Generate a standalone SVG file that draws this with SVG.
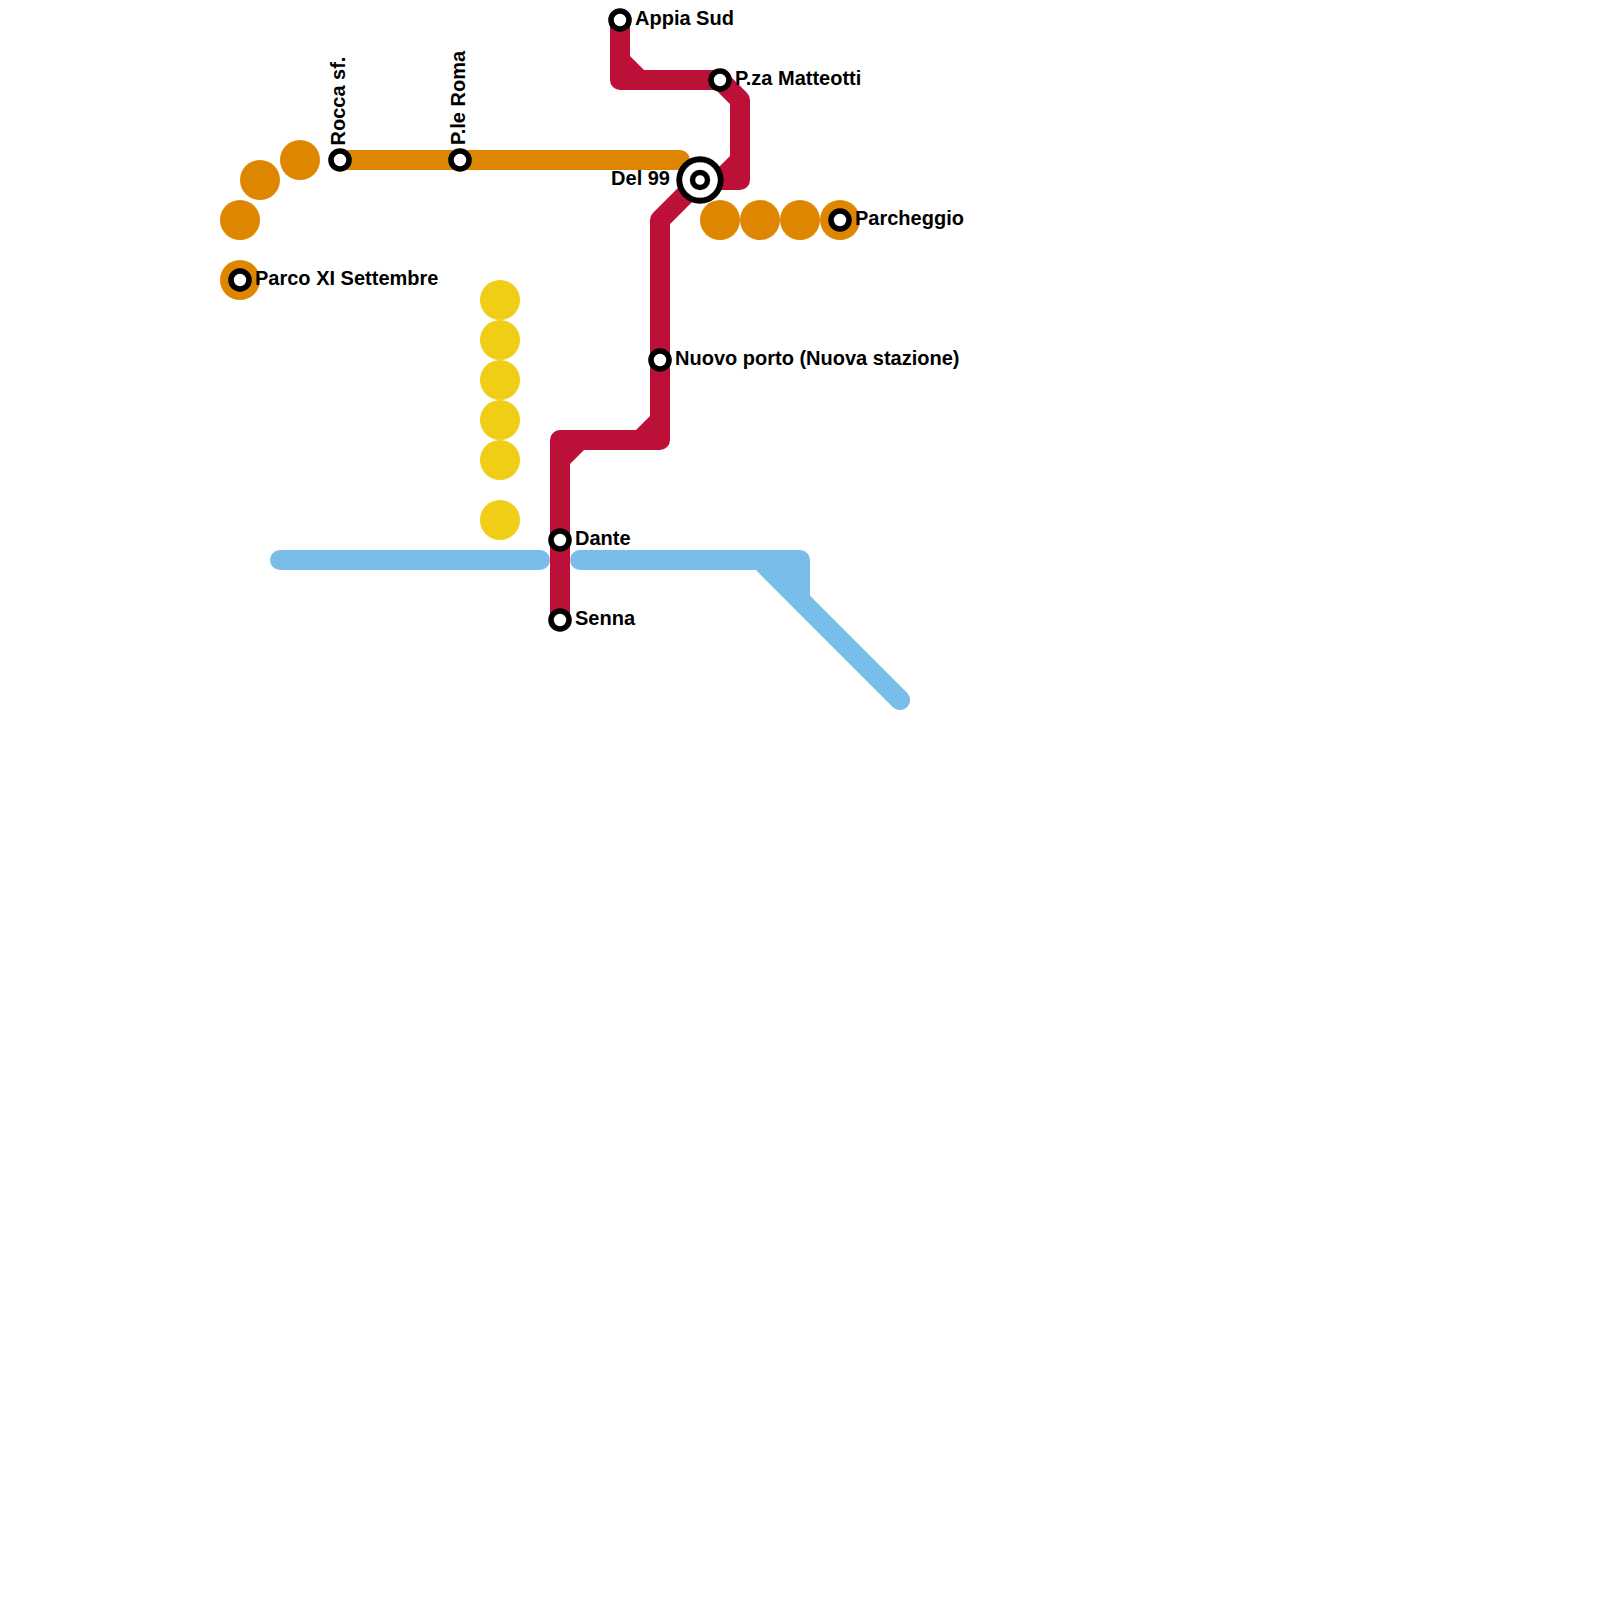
<svg xmlns="http://www.w3.org/2000/svg" width="1600" height="1600" viewBox="0 0 1600 1600">
<style>
.l{fill:none;stroke-width:20;stroke-linecap:round;stroke-linejoin:round}
.o{stroke:#df8600}.b{stroke:#79bde9}.r{stroke:#bd1038}
.bf{fill:#79bde9}.rf{fill:#bd1038}
.od{fill:#df8600}.yd{fill:#f0ce15}
.st{fill:#fff;stroke:#000;stroke-width:5.6}
text{font-family:"Liberation Sans",Arial,sans-serif;font-weight:bold;font-size:20px;fill:#000}
</style>
<rect width="1600" height="1600" fill="#fff"/>
<g id="connectors">
<path class="l o" d="M340 160H680"/>
<path class="l b" d="M280 560H540"/>
<path class="l b" d="M580 560H800V600L900 700"/>
<path class="l b" d="M760 560L900 700"/>
<polygon class="bf" points="760,560 800,560 800,600"/>
<path class="l r" d="M620 20V80H720L740 100V180H720"/>
<polygon class="rf" points="630,56 644,70 630,70"/>
<polygon class="rf" points="730,156 730,170 716,170"/>
<path class="l r" d="M700 180L660 220V440H560V620"/>
<polygon class="rf" points="650,416 650,430 636,430"/>
<polygon class="rf" points="570,450 584,450 570,464"/>
</g>
<g id="dots-orange">
<circle class="od" cx="240" cy="220" r="20"/>
<circle class="od" cx="260" cy="180" r="20"/>
<circle class="od" cx="300" cy="160" r="20"/>
<circle class="od" cx="720" cy="220" r="20"/>
<circle class="od" cx="760" cy="220" r="20"/>
<circle class="od" cx="800" cy="220" r="20"/>
</g>
<g id="dots-yellow">
<circle class="yd" cx="500" cy="300" r="20"/>
<circle class="yd" cx="500" cy="340" r="20"/>
<circle class="yd" cx="500" cy="380" r="20"/>
<circle class="yd" cx="500" cy="420" r="20"/>
<circle class="yd" cx="500" cy="460" r="20"/>
<circle class="yd" cx="500" cy="520" r="20"/>
</g>
<g id="parco"><circle class="od" cx="240" cy="280" r="20"/><circle class="st" cx="240" cy="280" r="9"/><text x="255" y="285">Parco XI Settembre</text></g>
<g id="rocca"><circle class="st" cx="340" cy="160" r="9"/><text transform="translate(345 145.5) rotate(-90)">Rocca sf.</text></g>
<g id="roma"><circle class="st" cx="460" cy="160" r="9"/><text transform="translate(465 145) rotate(-90)">P.le Roma</text></g>
<g id="appia"><circle class="st" cx="620" cy="20" r="9"/><text x="635" y="25">Appia Sud</text></g>
<g id="matteotti"><circle class="st" cx="720" cy="80" r="9"/><text x="735" y="85">P.za Matteotti</text></g>
<g id="del99"><circle cx="700" cy="180" r="23.7" fill="#000"/><circle cx="700" cy="180" r="17.8" fill="#fff"/><circle class="st" style="stroke-width:5.4" cx="700" cy="180" r="7.5"/><text x="670" y="185" text-anchor="end">Del 99</text></g>
<g id="parcheggio"><circle class="od" cx="840" cy="220" r="20"/><circle class="st" cx="840" cy="220" r="9"/><text x="855" y="225">Parcheggio</text></g>
<g id="nuovo"><circle class="st" cx="660" cy="360" r="9"/><text x="675" y="365">Nuovo porto (Nuova stazione)</text></g>
<g id="dante"><circle class="st" cx="560" cy="540" r="9"/><text x="575" y="545">Dante</text></g>
<g id="senna"><circle class="st" cx="560" cy="620" r="9"/><text x="575" y="625">Senna</text></g>
</svg>
